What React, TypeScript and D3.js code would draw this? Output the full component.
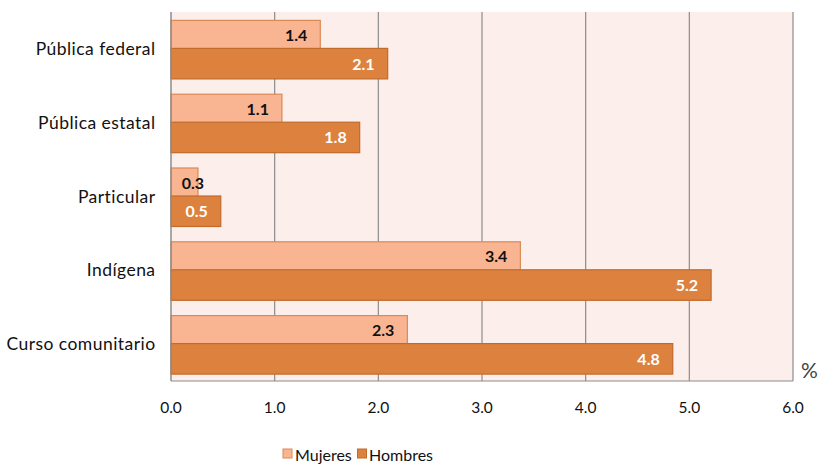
import React from "react";
import * as d3 from "d3";

const categories = ["Pública federal", "Pública estatal", "Particular", "Indígena", "Curso comunitario"];
const mujeres = [1.44, 1.07, 0.26, 3.37, 2.28];
const hombres = [2.09, 1.82, 0.48, 5.21, 4.84];
const ticks = [0, 1, 2, 3, 4, 5, 6];
const seriesNames = ["Mujeres", "Hombres"];

const W = 821;
const H = 464;
const left = 171;
const right = 793;
const top = 12;
const bottom = 381;
const FONT = "Lato, 'Open Sans', sans-serif";

export default function App() {
  const x = d3.scaleLinear().domain([0, 6]).range([left, right]);
  const y = d3.scaleBand().domain(categories).range([top, bottom]);
  const barH = 30.5;
  const colors = { m: "#F9B592", mS: "#D98A55", h: "#DC823E", hS: "#C06A2C" };
  const labelEnd = (v: number) => Math.max(x(v) - 13, left + 33);

  return (
    <svg width={W} height={H} style={{ position: "absolute", left: 0, top: 0, background: "#fff" }}>
      <rect x={left} y={top} width={right - left} height={bottom - top} fill="#FCEEEA" />
      {ticks.slice(1).map((t) => (
        <line key={t} x1={x(t)} x2={x(t)} y1={top} y2={bottom} stroke="#8C8C8C" strokeWidth={1.2} />
      ))}
      {categories.map((c, i) => {
        const cy = (y(c) as number) + y.bandwidth() / 2;
        return (
          <g key={c}>
            <rect x={x(0)} y={cy - 28.5} width={x(mujeres[i]) - x(0)} height={barH} fill={colors.m} stroke={colors.mS} strokeWidth={1.2} />
            <rect x={x(0)} y={cy - 0.5} width={x(hombres[i]) - x(0)} height={barH} fill={colors.h} stroke={colors.hS} strokeWidth={1.2} />
            <text x={labelEnd(mujeres[i])} y={cy - 13.5} dy="0.35em" textAnchor="end" fontFamily={FONT} fontWeight="bold" fontSize={16} fill="#111">
              {mujeres[i].toFixed(1)}
            </text>
            <text x={labelEnd(hombres[i])} y={cy + 15} dy="0.35em" textAnchor="end" fontFamily={FONT} fontWeight="bold" fontSize={16} fill="#fff">
              {hombres[i].toFixed(1)}
            </text>
            <text x={155.5} y={cy} dy="0.35em" textAnchor="end" fontFamily={FONT} fontSize={17.5} letterSpacing={0.45} fill="#111">
              {c}
            </text>
          </g>
        );
      })}
      <line x1={left} x2={left} y1={top} y2={bottom} stroke="#8C8C8C" strokeWidth={1.5} />
      <line x1={left} x2={right} y1={bottom} y2={bottom} stroke="#8C8C8C" strokeWidth={1.2} />
      {ticks.map((t) => (
        <text key={t} x={x(t)} y={408} dy="0.35em" textAnchor="middle" fontFamily={FONT} fontSize={15.5} fill="#111">
          {t.toFixed(1)}
        </text>
      ))}
      <text x={801} y={378} fontFamily={FONT} fontSize={21} fill="#444">%</text>
      <g>
        <rect x={283} y={449} width={9} height={9} fill={colors.m} stroke={colors.mS} />
        <text x={295} y={461} fontFamily={FONT} fontSize={16} fill="#111">{seriesNames[0]}</text>
        <rect x={357.5} y={449} width={9} height={9} fill={colors.h} stroke={colors.hS} />
        <text x={369} y={461} fontFamily={FONT} fontSize={16} fill="#111">{seriesNames[1]}</text>
      </g>
    </svg>
  );
}
